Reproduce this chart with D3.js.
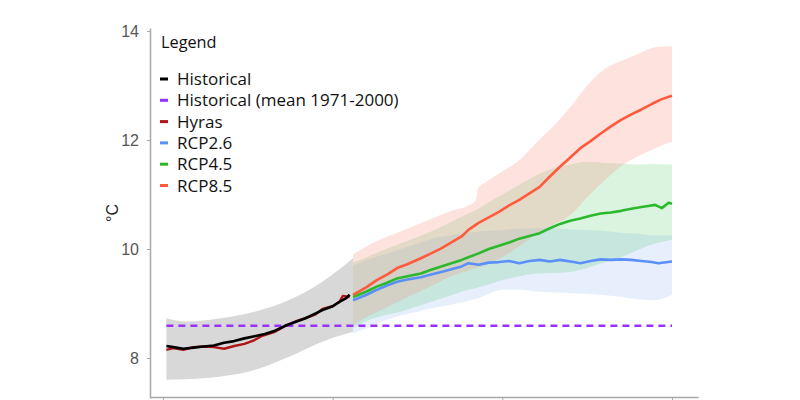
<!DOCTYPE html>
<html><head><meta charset="utf-8">
<script src="https://cdn.jsdelivr.net/npm/d3@7"></script>
<style>body{margin:0;background:#fff}svg{display:block}</style>
</head><body><svg id="c" width="800" height="400"></svg>
<script>
// ---- data ----
const histYears = [1951,1953,1956,1959,1962,1965,1968,1971,1974,1977,1980,1983,1986,1989,1992,1995,1997,2000,2002,2004,2005];
const histValues = [8.22,8.20,8.17,8.19,8.21,8.23,8.28,8.31,8.36,8.40,8.44,8.50,8.59,8.66,8.73,8.82,8.88,8.95,9.03,9.10,9.16];
const hyrasYears = [1951,1953,1956,1959,1962,1965,1968,1971,1974,1977,1979,1983,1986,1989,1992,1995,1997,2000,2002,2003,2005];
const hyrasValues = [8.15,8.18,8.15,8.20,8.21,8.20,8.17,8.22,8.26,8.33,8.40,8.48,8.59,8.67,8.73,8.80,8.90,8.95,9.03,9.14,9.12];
const histBandYears = [1951,1957,1967,1977,1987,1997,2006];
const histBandUpper = [8.73,8.67,8.73,8.85,9.06,9.40,9.83];
const histBandLower = [7.60,7.61,7.66,7.78,8.02,8.30,8.48];
const histMean = 8.59;
const histMeanYears = [1951,2100];

const projYears = [2006,2010,2013,2016,2019,2022,2026,2029,2032,2035,2038,2040,2043,2046,2049,2052,2055,2058,2061,2064,2067,2070,2073,2076,2079,2082,2085,2088,2091,2094,2097,2100];
const rcp85 = [9.16,9.30,9.43,9.53,9.65,9.72,9.83,9.92,10.01,10.12,10.23,10.35,10.48,10.58,10.68,10.80,10.90,11.02,11.14,11.33,11.51,11.68,11.85,11.98,12.12,12.25,12.37,12.47,12.56,12.66,12.75,12.81];
const rcp45Years = [2006,2010,2013,2016,2019,2022,2026,2029,2032,2035,2038,2040,2043,2046,2049,2052,2055,2058,2061,2064,2067,2070,2073,2076,2079,2082,2085,2088,2091,2093,2095,2097,2099,2100];
const rcp45 = [9.12,9.22,9.31,9.38,9.46,9.50,9.55,9.62,9.68,9.74,9.80,9.85,9.92,10.00,10.06,10.12,10.19,10.24,10.29,10.38,10.46,10.52,10.56,10.61,10.65,10.67,10.70,10.74,10.77,10.79,10.81,10.75,10.85,10.83];
const rcp26Years = [2006,2010,2013,2016,2019,2022,2026,2029,2032,2035,2038,2040,2043,2046,2049,2052,2055,2058,2061,2064,2067,2071,2073,2076,2079,2082,2085,2088,2091,2094,2096,2100];
const rcp26 = [9.06,9.16,9.25,9.33,9.40,9.44,9.48,9.53,9.58,9.63,9.68,9.74,9.71,9.75,9.76,9.78,9.74,9.78,9.80,9.77,9.80,9.76,9.74,9.78,9.81,9.80,9.81,9.80,9.78,9.76,9.74,9.77];

const bandYears = [2006,2010,2015,2020,2025,2030,2035,2040,2042,2043,2045,2050,2055,2060,2065,2070,2075,2080,2085,2090,2095,2100];
const rcp85Upper = [9.90,10.05,10.20,10.32,10.45,10.58,10.70,10.80,10.88,11.12,11.22,11.42,11.63,11.95,12.25,12.60,13.00,13.30,13.45,13.58,13.70,13.72];
const rcp85Lower = [8.60,8.75,8.90,9.05,9.20,9.35,9.50,9.60,9.64,9.66,9.70,9.85,10.05,10.28,10.45,10.62,10.95,11.25,11.52,11.70,11.85,11.97];
const rcp45Upper = [9.75,9.85,9.98,10.10,10.22,10.35,10.50,10.65,10.71,10.74,10.82,11.00,11.18,11.35,11.48,11.55,11.60,11.58,11.57,11.55,11.56,11.55];
const rcp45Lower = [8.55,8.68,8.78,8.85,8.95,9.05,9.15,9.25,9.28,9.30,9.33,9.43,9.50,9.55,9.56,9.58,9.65,9.75,9.85,9.98,10.10,10.17];
const rcp26Upper = [9.70,9.80,9.90,10.00,10.10,10.20,10.25,10.30,10.31,10.32,10.33,10.35,10.37,10.38,10.38,10.36,10.35,10.33,10.30,10.28,10.25,10.25];
const rcp26Lower = [8.45,8.55,8.68,8.78,8.85,8.92,8.98,9.05,9.08,9.10,9.15,9.25,9.25,9.22,9.20,9.19,9.18,9.15,9.12,9.08,9.06,9.16];

const xTicks = [1950,2000,2050,2100];
const yTicks = [8,10,12,14];
const legendLabels = ["Historical","Historical (mean 1971-2000)","Hyras","RCP2.6","RCP4.5","RCP8.5"];
const legendColors = ["#000000","#9b30ff","#b01515","#5b8ff9","#2cb82c","#ff5a3c"];

// ---- drawing ----
const svg = d3.select("#c");
const x = d3.scaleLinear().domain([1946.17, 2107.66]).range([150, 698]);
const y = d3.scaleLinear().domain([7.266, 14.055]).range([398, 28]);

function band(years, lo, hi, fill, op){
  const data = years.map((yr,i)=>({yr, lo:lo[i], hi:hi[i]}));
  svg.append("path").datum(data)
    .attr("d", d3.area().curve(d3.curveMonotoneX).x(d=>x(d.yr)).y0(d=>y(d.lo)).y1(d=>y(d.hi)))
    .attr("fill", fill).attr("fill-opacity", op).attr("stroke","none");
}
function line(years, vals, color, w, dash){
  const data = years.map((yr,i)=>({yr, v:vals[i]}));
  const p = svg.append("path").datum(data)
    .attr("d", d3.line().x(d=>x(d.yr)).y(d=>y(d.v)))
    .attr("fill","none").attr("stroke", color).attr("stroke-width", w)
    .attr("stroke-linejoin","round").attr("stroke-linecap","butt");
  if (dash) p.attr("stroke-dasharray", dash);
}

band(histBandYears, histBandLower, histBandUpper, "#d8d8d8", 1);
band(bandYears, rcp26Lower, rcp26Upper, "#7aa6f5", 0.18);
band(bandYears, rcp45Lower, rcp45Upper, "#4cc764", 0.2);
band(bandYears, rcp85Lower, rcp85Upper, "#f8907f", 0.26);

line(histMeanYears, [histMean, histMean], legendColors[1], 2.5, "7,5");
line(hyrasYears, hyrasValues, legendColors[2], 2.4);
line(histYears, histValues, legendColors[0], 2.6);
line(rcp26Years, rcp26, legendColors[3], 2.6);
line(rcp45Years, rcp45, legendColors[4], 2.6);
line(projYears, rcp85, legendColors[5], 2.6);

// axes
const yAxis = svg.append("g").attr("transform","translate(150,0)")
  .call(d3.axisLeft(y).tickValues(yTicks).tickFormat(d3.format("d")).tickSize(3).tickSizeOuter(0).tickPadding(8));
const xAxis = svg.append("g").attr("transform","translate(0,397)")
  .call(d3.axisBottom(x).tickValues(xTicks).tickSize(3).tickSizeOuter(0).tickFormat(""));
[yAxis, xAxis].forEach(g=>{
  g.select(".domain").attr("stroke","#a8a8a8").attr("stroke-width",1.5);
  g.selectAll(".tick line").attr("stroke","#a8a8a8");
});
yAxis.selectAll(".tick text").attr("fill","#555").style("font-family","Liberation Sans, Arial, sans-serif").style("font-size","16px");

svg.append("text").attr("transform","translate(118,213) rotate(-90)")
  .attr("text-anchor","middle").style("font-family","Liberation Sans, Arial, sans-serif")
  .style("font-size","16px").attr("fill","#222").text("°C");

// legend
const lg = svg.append("g");
lg.append("text").attr("x",161).attr("y",48).style("font-family","Open Sans, sans-serif")
  .style("font-size","16.3px").attr("fill","#111").text("Legend");
legendLabels.forEach((t,i)=>{
  const yy = 85 + i*21.3;
  lg.append("rect").attr("x",160).attr("y",yy-7.5).attr("width",8).attr("height",3).attr("fill",legendColors[i]);
  lg.append("text").attr("x",177).attr("y",yy).style("font-family","Open Sans, sans-serif")
    .style("font-size","17px").attr("fill","#111").text(t);
});
</script></body></html>
